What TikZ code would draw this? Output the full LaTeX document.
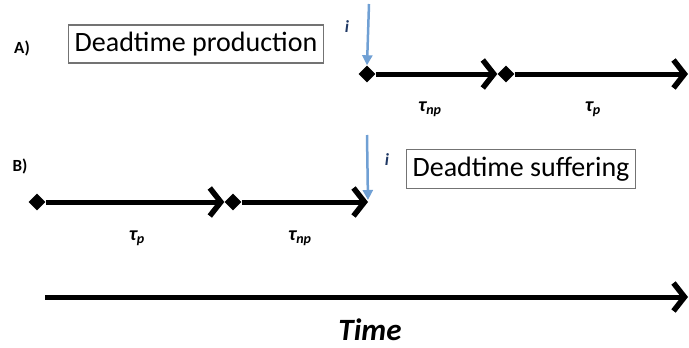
\documentclass[tikz,border=0pt]{standalone}
\usepackage{fontspec}
\setmainfont{Carlito}
\usepackage{tikz}
\usetikzlibrary{arrows.meta,shapes.geometric}
\definecolor{pulseblue}{RGB}{112,160,212}
\definecolor{pulselabel}{RGB}{31,56,100}
\tikzset{
    timeline/.style={line width=5pt, -{Straight Barb[length=11pt,width=28pt,line width=5.5pt]}},
    event/.style={diamond, fill=black, minimum size=17pt, inner sep=0pt},
    pulse/.style={pulseblue, line width=2.5pt, -{Triangle[length=10pt,width=10pt]}},
    pulsetag/.style={text=pulselabel, font=\fontsize{17}{17}\selectfont\bfseries\itshape},
    caption/.style={draw=black!55, line width=1.2pt, inner xsep=6pt, inner ysep=7pt,
            font=\fontsize{28}{30}\selectfont},
    casetag/.style={font=\fontsize{17}{17}\selectfont\bfseries},
    span/.style={font=\fontsize{20}{20}\selectfont\bfseries\itshape}
}
\begin{document}
\begin{tikzpicture}[x=1pt, y=-1pt]
    \useasboundingbox (0, 0) rectangle (689, 348);
    % case A: the pulse comes first
    \node (tagA) at (22, 48) [casetag] {A)};
    \node (boxA) at (196, 44) [caption] {Deadtime production};
    \node (a1) at (367, 74) [event] {};
    \node (a2) at (506, 74) [event] {};
    \coordinate (a3) at (688, 74);
    \draw [timeline] (a1) -- (a2);
    \draw [timeline] (a2) -- (a3);
    \coordinate (pA) at (369, 4);
    \draw [pulse] (pA) -- (a1.north);
    \node (iA) at (347, 27) [pulsetag] {i};
    \node (npA) at (430, 109) [span] {τ\textsubscript{np}};
    \node (pA2) at (593, 109) [span] {τ\textsubscript{p}};
    % case B: the pulse comes last
    \node (tagB) at (20, 166) [casetag] {B)};
    \node (b1) at (37, 202) [event] {};
    \node (b2) at (233, 202) [event] {};
    \coordinate (b3) at (368, 202);
    \draw [timeline] (b1) -- (b2);
    \draw [timeline] (b2) -- (b3);
    \coordinate (pB) at (367, 135);
    \draw [pulse, shorten >=2pt] (pB) -- (b3);
    \node (iB) at (387, 160) [pulsetag] {i};
    \node (boxB) at (521, 169) [caption] {Deadtime suffering};
    \node (pB2) at (137, 238) [span] {τ\textsubscript{p}};
    \node (npB) at (300, 238) [span] {τ\textsubscript{np}};
    % time axis
    \coordinate (t0) at (45, 297);
    \coordinate (t1) at (688, 297);
    \draw [timeline] (t0) -- (t1);
    \node (time) at (370, 330) [inner sep=0pt, font=\fontsize{31}{31}\selectfont\bfseries\itshape] {Time};
\end{tikzpicture}
\end{document}
